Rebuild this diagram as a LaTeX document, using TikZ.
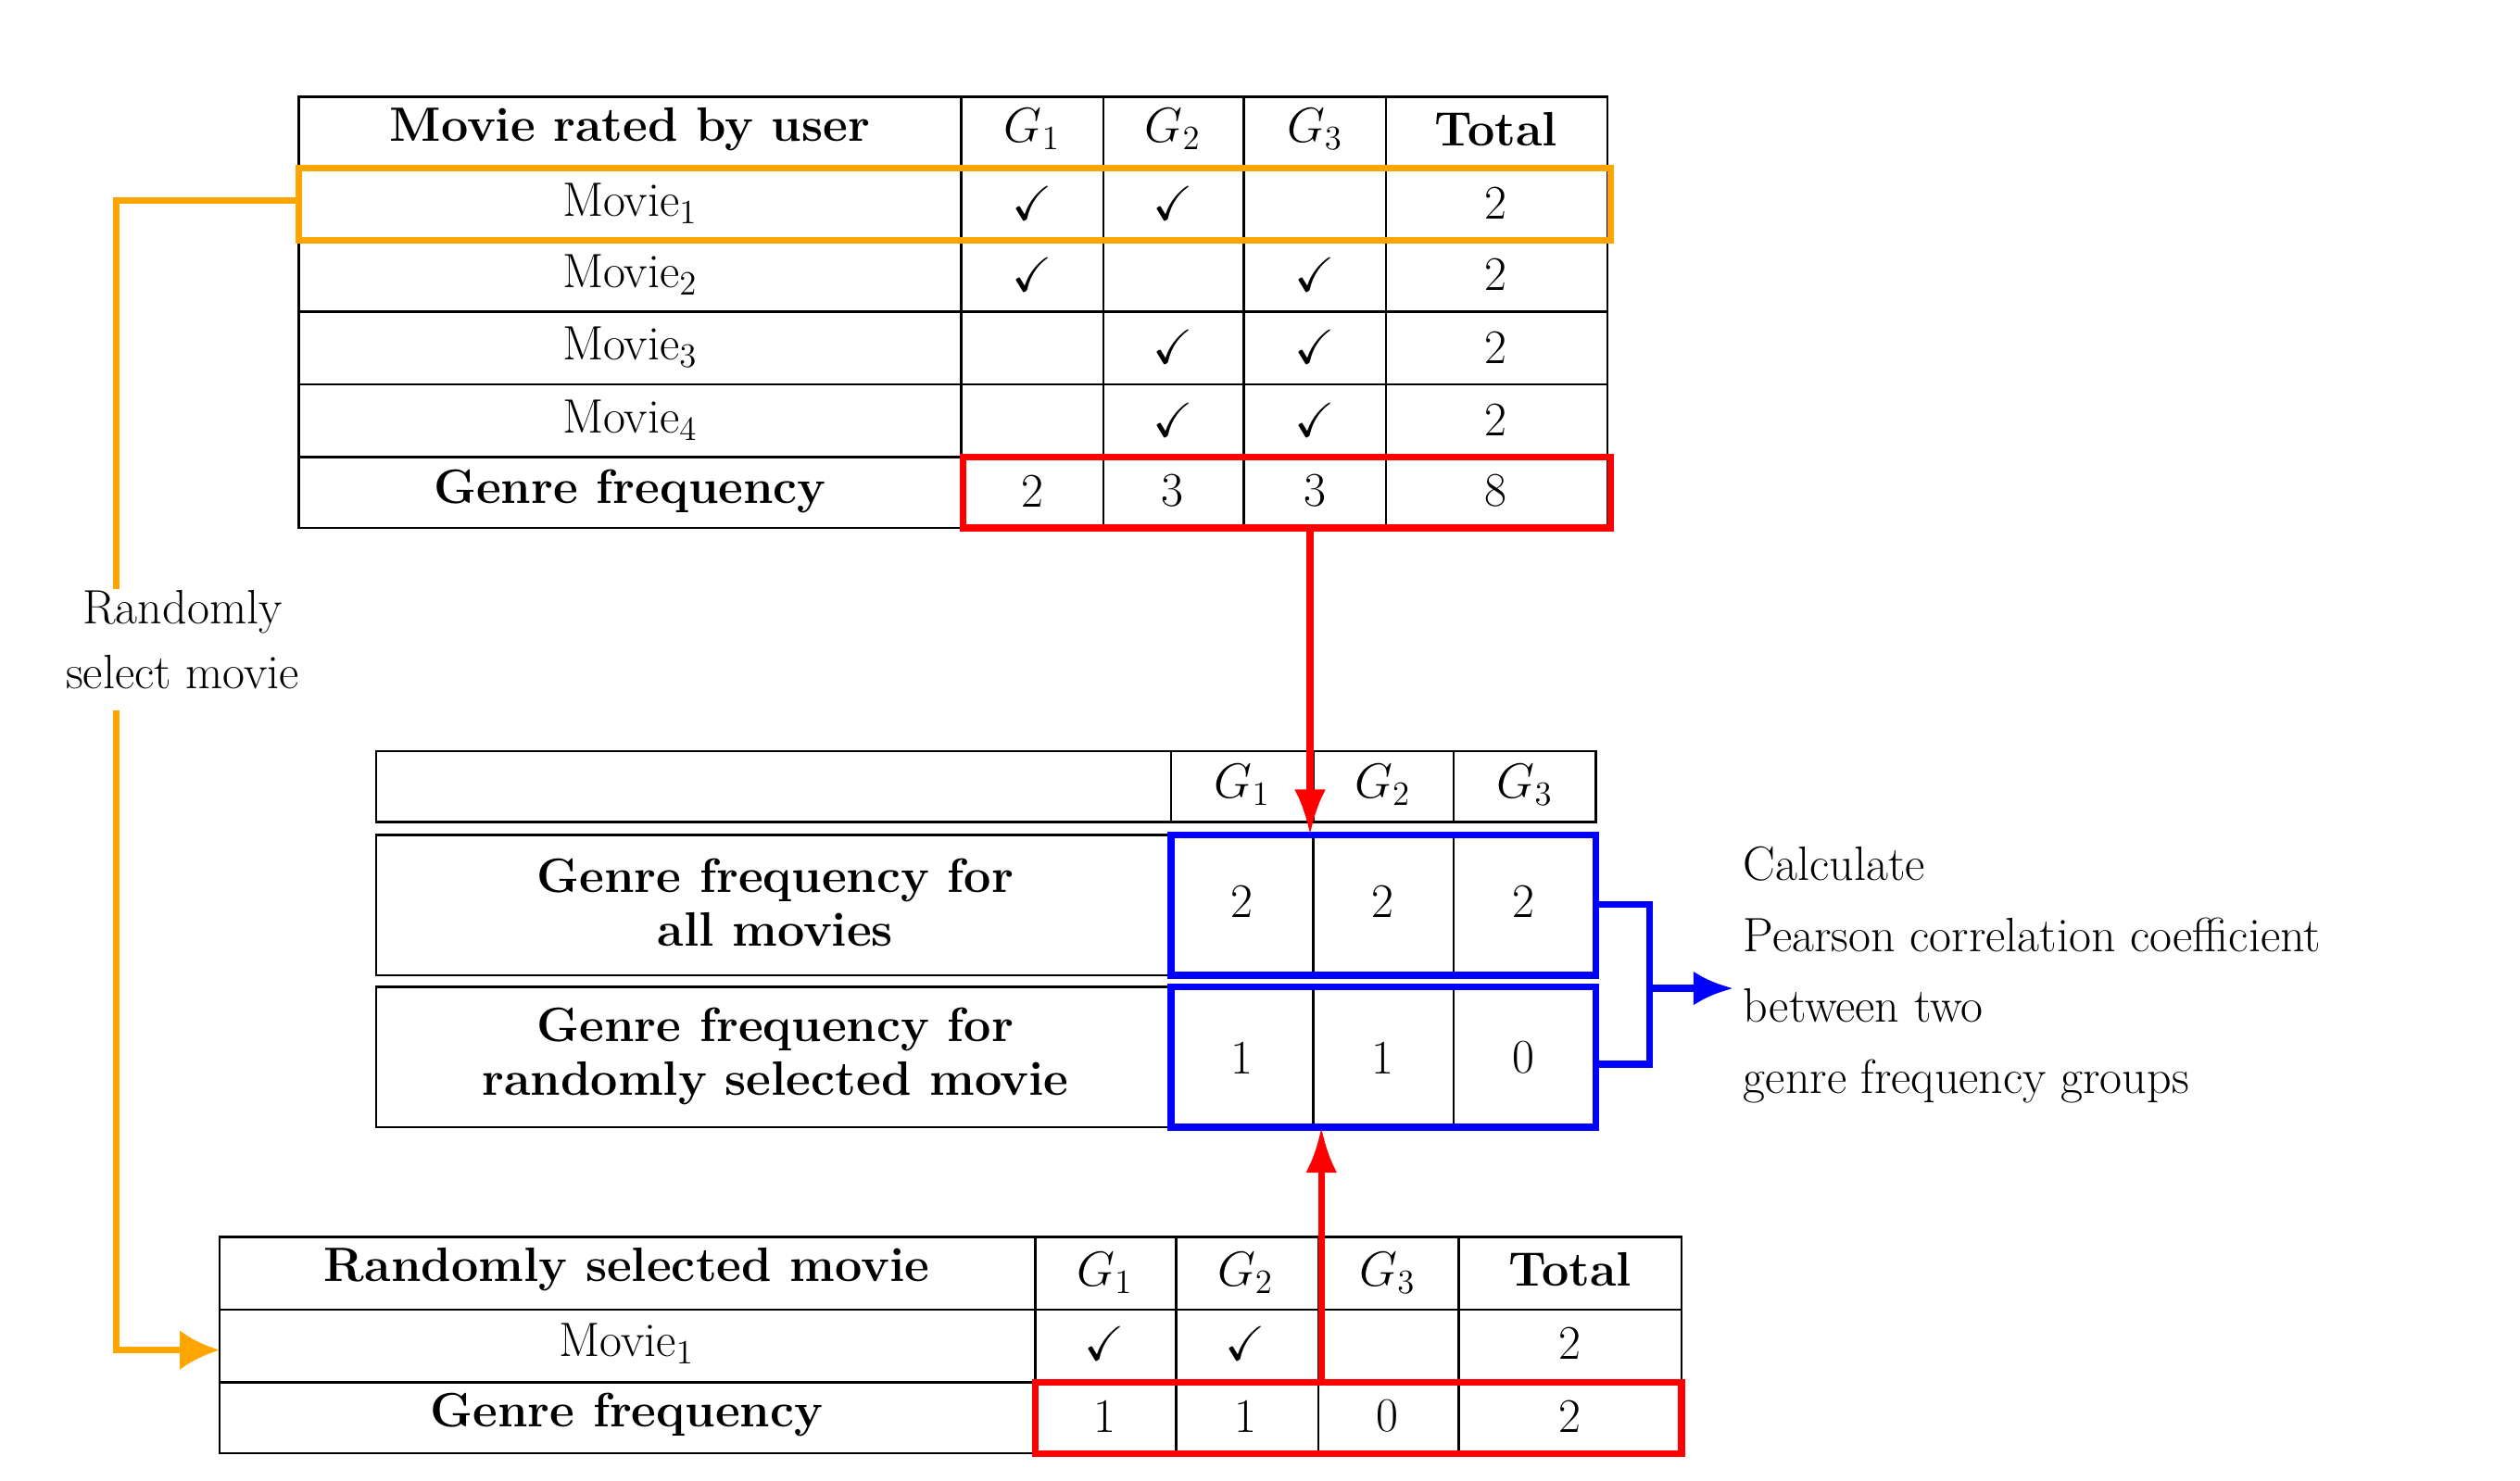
\documentclass[tikz,border=0pt]{standalone}
\usepackage{amssymb}
\usetikzlibrary{arrows.meta}
\begin{document}
\begin{tikzpicture}[x=0.02cm,y=-0.02cm,
  t/.style={font=\fontsize{17}{21}\selectfont, inner sep=0pt},
  tb/.style={font=\fontsize{17}{21}\selectfont\bfseries, inner sep=0pt, align=center},
  grid/.style={line width=0.8pt},
  org/.style={draw={rgb,255:red,255;green,165;blue,0}, line width=2.4pt},
  redb/.style={draw=red, line width=2.4pt},
  blueb/.style={draw=blue, line width=2.4pt}]
\useasboundingbox (0,0) rectangle (1560,917);
% ---------- top table
\draw[grid] (185,60) rectangle (995,327);
\foreach \y in {104,148,193,238,283} \draw[grid] (185,\y) -- (995,\y);
\foreach \x in {595,683,770,858} \draw[grid] (\x,60) -- (\x,327);
\node[tb] (th0) at (390,80) {Movie rated by user};
\node[t] (th1) at (639,80) {$G_1$};
\node[t] (th2) at (726,80) {$G_2$};
\node[t] (th3) at (814,80) {$G_3$};
\node[tb] (th4) at (926,80) {Total};
\foreach \i/\y/\a/\b/\c in {1/126/1/1/0,2/170/1/0/1,3/215/0/1/1,4/260/0/1/1}{
  \node[t] (tm\i) at (390,\y) {Movie$_{\i}$};
  \ifnum\a=1 \node[t] at (639,\y) {$\checkmark$};\fi
  \ifnum\b=1 \node[t] at (726,\y) {$\checkmark$};\fi
  \ifnum\c=1 \node[t] at (814,\y) {$\checkmark$};\fi
  \node[t] at (926,\y) {2};
}
\node[tb] (tgf) at (390,304) {Genre frequency};
\node[t] at (639,304) {2};
\node[t] at (726,304) {3};
\node[t] at (814,304) {3};
\node[t] at (926,304) {8};
\draw[org] (185,104) rectangle (997,149);
\draw[redb] (596,283) rectangle (997,327);
% ---------- middle table
\draw[grid] (233,465) rectangle (988,509);
\foreach \x in {725,813,900} \draw[grid] (\x,465) -- (\x,509);
\node[t] at (769,486) {$G_1$};
\node[t] at (856,486) {$G_2$};
\node[t] at (944,486) {$G_3$};
\draw[grid] (233,517) rectangle (988,604);
\draw[grid] (233,611) rectangle (988,698);
\foreach \x in {813,900} {\draw[grid] (\x,517) -- (\x,604); \draw[grid] (\x,611) -- (\x,698);}
\node[tb] (mall) at (480,559) {Genre frequency for\\[-2pt]all movies};
\node[tb] (mrnd) at (480,654) {Genre frequency for\\[-2pt]randomly selected movie};
\node[t] at (769,558) {2}; \node[t] at (856,558) {2}; \node[t] at (943,558) {2};
\node[t] at (769,655) {1}; \node[t] at (856,655) {1}; \node[t] at (943,655) {0};
\draw[blueb] (725,517) rectangle (988,604);
\draw[blueb] (725,611) rectangle (988,698);
% ---------- bottom table
\draw[grid] (136,766) rectangle (1041,900);
\foreach \y in {811,856} \draw[grid] (136,\y) -- (1041,\y);
\foreach \x in {641,728,816,903} \draw[grid] (\x,766) -- (\x,900);
\node[tb] (bh0) at (388,786) {Randomly selected movie};
\node[t] at (684,788) {$G_1$};
\node[t] at (771,788) {$G_2$};
\node[t] at (859,788) {$G_3$};
\node[tb] at (972,786) {Total};
\node[t] (bm1) at (388,832) {Movie$_1$};
\node[t] at (684,832) {$\checkmark$};
\node[t] at (771,832) {$\checkmark$};
\node[t] at (972,832) {2};
\node[tb] (bgf) at (388,876) {Genre frequency};
\node[t] at (684,877) {1}; \node[t] at (771,877) {1}; \node[t] at (859,877) {0}; \node[t] at (972,877) {2};
\draw[redb] (641,856) rectangle (1041,900);
% ---------- connectors
\coordinate (ra1) at (811,327); \coordinate (ra2) at (811,517);
\draw[draw=red, line width=2.4pt, -{Latex[length=16pt,width=11pt]}] (ra1) -- (ra2);
\coordinate (rb1) at (818,856); \coordinate (rb2) at (818,698);
\draw[draw=red, line width=2.4pt, -{Latex[length=16pt,width=11pt]}] (rb1) -- (rb2);
\coordinate (bl1) at (988,560); \coordinate (bl2) at (988,659);
\coordinate (bm) at (1021,612); \coordinate (bt) at (1073,612);
\draw[blueb] (bl1) -| (bm) |- (bl2);
\draw[draw=blue, line width=2.4pt, -{Latex[length=14pt,width=12pt]}] (bm) -- (bt);
\node[t, align=center] (lab) at (113,396) {Randomly\\[2pt]select movie};
\coordinate (o1) at (185,124); \coordinate (o2) at (136,836);
\draw[org] (o1) -| (lab.north -| 72,0);
\draw[org, -{Latex[length=14pt,width=14pt]}] (72,440) |- (o2);
\node[t, align=left, anchor=north west] (calc) at (1079,524) {Calculate\\[4pt]Pearson correlation coefficient\\[4pt]between two\\[4pt]genre frequency groups};
\end{tikzpicture}
\end{document}
